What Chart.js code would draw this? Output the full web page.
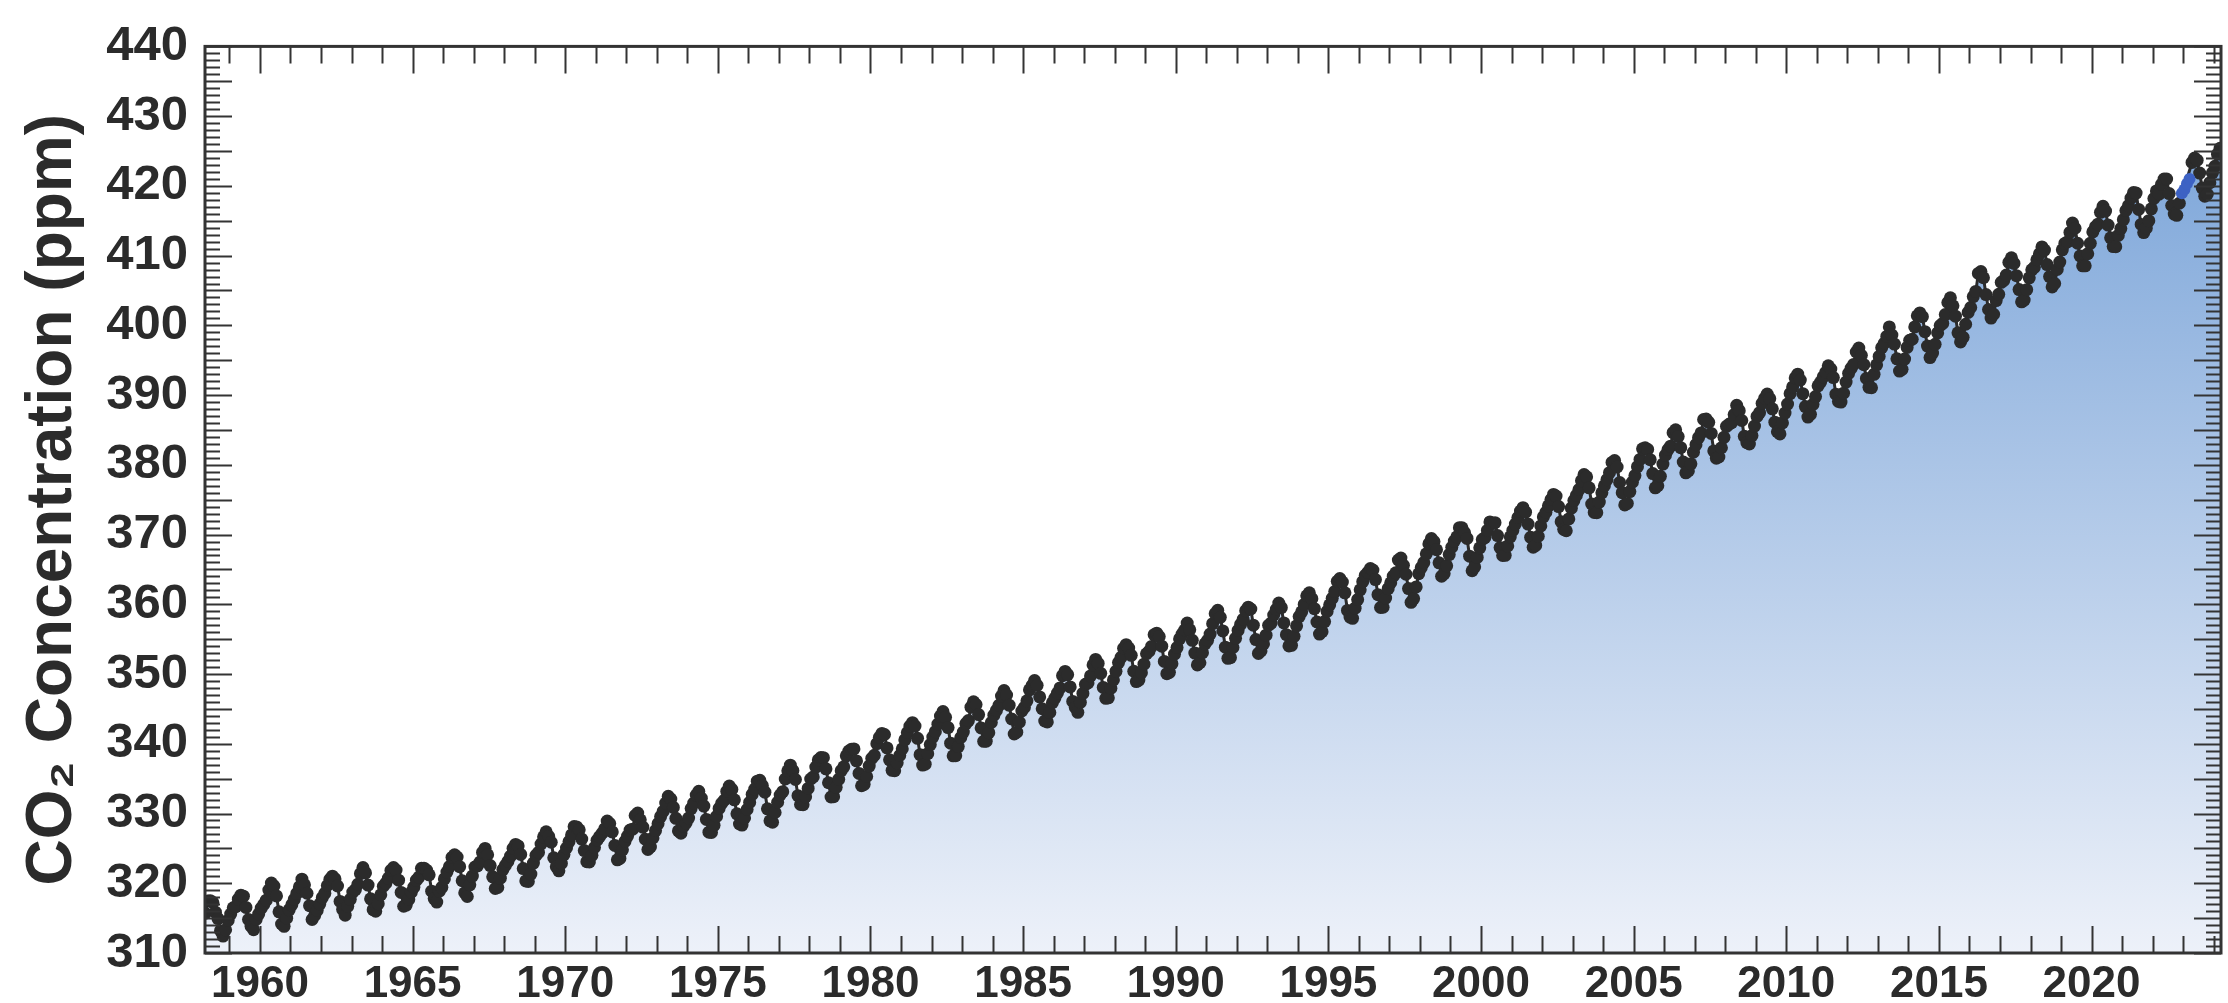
<!DOCTYPE html>
<html>
<head>
<meta charset="utf-8">
<script src="https://cdn.jsdelivr.net/npm/chart.js@4/dist/chart.umd.min.js"></script>
<style>
  html, body { margin: 0; padding: 0; background: #fff; }
  #wrap { width: 2228px; height: 1003px; position: relative; }
</style>
</head>
<body>
<div id="wrap"><canvas id="co2Chart"></canvas></div>
<script>
// monthly means, one row per year (Jan..Dec), Mauna Loa
const startYear = 1958;
const maunaLoa = [
  [null, null, 315.70, 317.45, 317.51, 317.24, 315.86, 314.93, 313.20, 312.43, 313.33, 314.67],
  [315.58, 316.49, 316.65, 317.72, 318.29, 318.15, 316.54, 314.80, 313.84, 313.33, 314.81, 315.58],
  [316.43, 316.97, 317.58, 319.02, 320.03, 319.59, 318.18, 315.91, 314.16, 313.83, 315.00, 316.19],
  [316.89, 317.70, 318.54, 319.48, 320.58, 319.77, 318.57, 316.79, 314.80, 315.38, 316.10, 317.01],
  [317.94, 318.55, 319.68, 320.57, 321.02, 320.62, 319.61, 317.40, 316.25, 315.42, 316.69, 317.70],
  [318.74, 319.07, 319.86, 321.38, 322.25, 321.48, 319.74, 317.77, 316.21, 315.99, 317.07, 318.35],
  [319.57, 320.01, 320.74, 321.84, 322.26, 321.89, 320.44, 318.69, 316.70, 316.87, 317.68, 318.71],
  [319.44, 320.44, 320.89, 322.14, 322.17, 321.87, 321.21, 318.87, 317.81, 317.30, 318.87, 319.42],
  [320.62, 321.60, 322.39, 323.70, 324.08, 323.75, 322.38, 320.36, 318.64, 318.10, 319.78, 321.03],
  [322.33, 322.50, 323.04, 324.42, 325.00, 324.09, 322.54, 320.92, 319.25, 319.39, 320.73, 321.96],
  [322.57, 323.15, 323.89, 325.02, 325.57, 325.36, 324.14, 322.11, 320.33, 320.25, 321.32, 322.89],
  [324.00, 324.42, 325.63, 326.66, 327.38, 326.71, 325.88, 323.66, 322.38, 321.78, 322.85, 324.12],
  [325.06, 325.98, 326.93, 328.13, 328.08, 327.67, 326.34, 324.69, 323.10, 323.06, 324.01, 325.13],
  [326.17, 326.68, 327.17, 327.79, 328.93, 328.57, 327.36, 325.43, 323.36, 323.56, 324.80, 326.01],
  [326.77, 327.63, 327.75, 329.72, 330.07, 329.09, 328.04, 326.32, 324.84, 325.20, 326.50, 327.55],
  [328.55, 329.56, 330.30, 331.50, 332.48, 332.07, 330.87, 329.31, 327.51, 327.18, 328.16, 328.64],
  [329.35, 330.71, 331.48, 332.65, 333.19, 332.20, 331.07, 329.15, 327.33, 327.28, 328.31, 329.58],
  [330.73, 331.46, 331.90, 333.17, 333.94, 333.45, 331.97, 329.95, 328.50, 328.34, 329.37, 330.58],
  [331.59, 332.75, 333.52, 334.64, 334.77, 334.00, 333.06, 330.68, 328.95, 328.75, 330.15, 331.62],
  [332.66, 333.13, 334.95, 336.13, 336.93, 336.17, 334.88, 332.56, 331.29, 331.27, 332.41, 333.60],
  [334.95, 335.25, 336.66, 337.69, 338.03, 338.01, 336.41, 334.41, 332.37, 332.41, 333.75, 334.90],
  [336.14, 336.69, 338.27, 338.96, 339.21, 339.26, 337.54, 335.75, 333.98, 334.19, 335.31, 336.81],
  [337.90, 338.34, 340.01, 340.93, 341.48, 341.33, 339.40, 337.70, 336.19, 336.15, 337.27, 338.32],
  [339.29, 340.55, 341.61, 342.53, 343.03, 342.54, 340.78, 338.44, 336.95, 337.08, 338.58, 339.88],
  [340.96, 341.73, 342.81, 343.97, 344.63, 343.79, 342.32, 340.09, 338.28, 338.29, 339.60, 340.90],
  [341.68, 342.90, 343.33, 345.25, 346.03, 345.63, 344.19, 342.27, 340.35, 340.38, 341.59, 343.05],
  [344.10, 344.79, 345.52, 346.84, 347.63, 346.98, 345.53, 343.55, 341.40, 341.67, 343.10, 344.70],
  [345.21, 346.16, 347.74, 348.34, 349.06, 348.38, 346.72, 345.02, 343.27, 343.13, 344.49, 345.88],
  [346.56, 347.28, 348.01, 349.77, 350.38, 349.93, 348.16, 346.08, 345.22, 344.51, 345.93, 347.22],
  [348.52, 348.73, 349.73, 351.31, 352.09, 351.53, 350.11, 348.08, 346.52, 346.59, 347.96, 349.16],
  [350.39, 351.64, 352.40, 353.69, 354.21, 353.72, 352.69, 350.40, 348.92, 349.13, 350.20, 351.41],
  [352.91, 353.27, 353.96, 355.64, 355.86, 355.37, 353.99, 351.81, 350.05, 350.25, 351.49, 352.85],
  [353.80, 355.04, 355.73, 356.32, 357.32, 356.34, 354.84, 353.01, 351.31, 351.62, 353.07, 354.33],
  [354.84, 355.73, 357.23, 358.66, 359.13, 358.13, 356.19, 353.85, 352.25, 352.35, 353.81, 355.12],
  [356.25, 357.11, 357.86, 359.09, 359.59, 359.33, 357.01, 354.94, 352.96, 353.32, 354.32, 355.57],
  [357.00, 357.31, 358.47, 359.27, 360.19, 359.52, 357.33, 355.64, 354.03, 354.12, 355.41, 356.91],
  [358.24, 358.92, 359.99, 361.23, 361.65, 360.81, 359.38, 357.46, 355.73, 356.08, 357.53, 358.98],
  [359.92, 360.86, 361.83, 363.30, 363.69, 363.19, 361.64, 359.12, 358.17, 357.99, 359.45, 360.68],
  [362.07, 363.24, 364.17, 364.57, 365.13, 364.92, 363.55, 361.38, 359.54, 359.58, 360.89, 362.24],
  [363.09, 364.03, 364.51, 366.35, 366.64, 365.59, 364.31, 362.25, 360.29, 360.82, 362.49, 364.38],
  [365.26, 365.98, 367.24, 368.66, 369.42, 368.99, 367.82, 365.95, 364.02, 364.40, 365.52, 367.13],
  [368.18, 369.07, 369.68, 370.99, 370.96, 370.30, 369.45, 366.90, 364.81, 365.37, 366.72, 368.10],
  [369.29, 369.54, 370.60, 371.82, 371.58, 371.70, 369.86, 368.13, 367.00, 367.03, 368.37, 369.67],
  [370.59, 371.51, 372.43, 373.37, 373.85, 373.21, 371.51, 369.61, 368.18, 368.45, 369.76, 371.24],
  [372.53, 373.20, 374.12, 375.02, 375.76, 375.52, 374.01, 371.85, 370.75, 370.55, 372.25, 373.79],
  [374.88, 375.64, 376.45, 377.73, 378.60, 378.28, 376.70, 374.38, 373.17, 373.14, 374.66, 375.99],
  [377.00, 377.87, 378.88, 380.35, 380.62, 379.69, 377.47, 376.01, 374.25, 374.46, 376.16, 377.51],
  [378.46, 379.73, 380.77, 382.29, 382.45, 382.21, 380.74, 378.74, 376.70, 377.00, 378.35, 380.11],
  [381.38, 382.19, 382.67, 384.61, 385.03, 384.05, 382.46, 380.41, 378.85, 379.13, 380.15, 381.82],
  [382.89, 383.90, 384.58, 386.50, 386.56, 386.10, 384.50, 381.99, 380.96, 381.12, 382.45, 383.95],
  [385.52, 385.82, 386.03, 387.21, 388.54, 387.76, 386.36, 384.09, 383.18, 382.99, 384.19, 385.56],
  [386.94, 387.48, 388.82, 389.55, 390.14, 389.48, 388.03, 386.11, 384.74, 384.43, 386.02, 387.42],
  [388.71, 390.20, 391.17, 392.46, 393.00, 392.15, 390.20, 388.35, 386.85, 387.24, 388.67, 389.79],
  [391.33, 391.86, 392.60, 393.25, 394.19, 393.74, 392.51, 390.13, 389.08, 389.00, 390.28, 391.86],
  [393.12, 393.86, 394.40, 396.18, 396.74, 395.71, 394.36, 392.39, 391.11, 391.05, 392.98, 394.34],
  [395.55, 396.80, 397.43, 398.41, 399.78, 398.61, 397.32, 395.20, 393.45, 393.70, 395.16, 396.84],
  [397.85, 398.01, 399.77, 401.38, 401.78, 401.25, 399.10, 397.03, 395.38, 396.03, 397.28, 398.91],
  [399.98, 400.28, 401.54, 403.28, 403.96, 402.80, 401.31, 398.93, 397.63, 398.29, 400.16, 401.85],
  [402.56, 404.12, 404.87, 407.45, 407.72, 406.83, 404.41, 402.27, 401.05, 401.59, 403.55, 404.45],
  [406.17, 406.46, 407.22, 409.04, 409.69, 408.88, 407.12, 405.13, 403.37, 403.63, 405.12, 406.81],
  [407.96, 408.32, 409.41, 410.24, 411.24, 410.79, 408.71, 406.99, 405.51, 406.00, 408.02, 409.07],
  [410.83, 411.75, 411.97, 413.32, 414.66, 413.92, 411.77, 409.95, 408.54, 408.53, 410.27, 411.76],
  [413.40, 414.11, 414.51, 416.21, 417.07, 416.39, 414.38, 412.55, 411.29, 411.28, 412.89, 413.88],
  [415.15, 416.47, 417.16, 418.24, 419.05, 418.97, 416.63, 414.47, 413.30, 413.93, 415.01, 416.71],
  [418.19, 419.28, 418.81, 420.23, 420.99, 420.99, 418.90, 417.19, 415.95, 415.78, 417.51, null],
  [null, null, null, 423.36, 424.00, 423.68, 421.83, 419.68, 418.51, 418.82, 420.46, 421.86],
  [422.80, 424.55, 425.38]
];

// Maunakea substitute record after the Mauna Loa eruption (blue)
const maunakeaYears = [2022, 2023, 2023, 2023];
const maunakeaMonths = [12, 1, 2, 3];
const maunakeaValues = [418.95, 419.47, 420.31, 420.99];

const xTickLabels = [1960, 1965, 1970, 1975, 1980, 1985, 1990, 1995, 2000, 2005, 2010, 2015, 2020];
const yTickLabels = [310, 320, 330, 340, 350, 360, 370, 380, 390, 400, 410, 420, 430, 440];

const xMin = 1958.2, xMax = 2024.24;
const ink = '#2b2b2b';
const fontFamily = '"Liberation Sans", Arial, Helvetica, sans-serif';

function monthX(year, month) {
	return year + (month - 0.5) / 12;
}

var mloPoints = [];
maunaLoa.forEach(function(row, i){
	row.forEach(function(v, m){
		mloPoints.push({x: monthX(startYear + i, m + 1), y: v});
	});
});

var mkoPoints = maunakeaValues.map(function(v, i){
	return {x: monthX(maunakeaYears[i], maunakeaMonths[i]), y: v};
});

function fillGradient(context){
	var chart = context.chart;
	var area = chart.chartArea;
	if (!area) return 'rgba(140,176,222,0.6)';
	var g = chart.ctx.createLinearGradient(0, area.top, 0, area.bottom);
	g.addColorStop(0, '#719ed6');
	g.addColorStop(1, '#edf1f9');
	return g;
}

// ticks drawn on the inside of all four sides, like the original frame
var frameTicks = {
	id: 'frameTicks',
	afterDatasetsDraw: function(chart){
		var ctx = chart.ctx, a = chart.chartArea;
		var x = chart.scales.x, y = chart.scales.y;
		ctx.save();
		ctx.strokeStyle = '#333';
		ctx.lineWidth = 2;
		ctx.beginPath();
		for (var yr = Math.ceil(x.min); yr <= x.max; yr++) {
			var px = Math.round(x.getPixelForValue(yr)) + 0.5;
			var len = yr % 5 === 0 ? 27 : 17;
			ctx.moveTo(px, a.bottom); ctx.lineTo(px, a.bottom - len);
			ctx.moveTo(px, a.top); ctx.lineTo(px, a.top + len);
		}
		for (var v = y.min; v <= y.max; v++) {
			var py = Math.round(y.getPixelForValue(v)) + 0.5;
			var l = v % 5 === 0 ? 27 : 15;
			ctx.moveTo(a.left, py); ctx.lineTo(a.left + l, py);
			ctx.moveTo(a.right, py); ctx.lineTo(a.right - l, py);
		}
		ctx.stroke();
		ctx.lineWidth = 3;
		ctx.strokeRect(a.left, a.top, a.right - a.left, a.bottom - a.top);
		ctx.restore();
	}
};

var co2Chart = new Chart(document.getElementById('co2Chart').getContext('2d'), {
	type: 'line',
	data: {
		datasets: [
			{
				label: 'Maunakea',
				data: mkoPoints,
				order: 0,
				borderColor: '#3d62c4',
				borderWidth: 4,
				pointRadius: 6,
				pointBorderWidth: 0,
				pointBackgroundColor: '#3d62c4',
				fill: false,
				clip: 0
			},
			{
				label: 'Mauna Loa',
				data: mloPoints,
				order: 1,
				borderColor: ink,
				borderWidth: 3,
				pointRadius: 6.5,
				pointBorderWidth: 0,
				pointBackgroundColor: ink,
				spanGaps: true,
				fill: 'start',
				backgroundColor: fillGradient,
				clip: 0
			}
		]
	},
	options: {
		responsive: true,
		maintainAspectRatio: false,
		animation: false,
		layout: { padding: { top: 32, right: 7, bottom: 0, left: 0 } },
		plugins: {
			legend: { display: false },
			tooltip: { enabled: false }
		},
		scales: {
			x: {
				type: 'linear',
				min: xMin,
				max: xMax,
				grid: { display: false, drawTicks: false },
				border: { display: false },
				afterBuildTicks: function(scale){
					scale.ticks = xTickLabels.map(function(v){ return {value: v}; });
				},
				afterFit: function(scale){ scale.height = 50; },
				ticks: {
					autoSkip: false,
					maxRotation: 0,
					padding: 5,
					color: ink,
					font: { family: fontFamily, size: 44, weight: 'bold' },
					callback: function(v){ return String(v); }
				}
			},
			y: {
				min: 310,
				max: 440,
				grid: { display: false, drawTicks: false },
				border: { display: false },
				afterBuildTicks: function(scale){
					scale.ticks = yTickLabels.map(function(v){ return {value: v}; });
				},
				afterFit: function(scale){ scale.width = 205; },
				ticks: {
					autoSkip: false,
					padding: 17,
					color: ink,
					font: { family: fontFamily, size: 49, weight: 'bold' },
					callback: function(v){ return String(v); }
				},
				title: {
					display: true,
					text: 'CO₂ Concentration (ppm)',
					color: ink,
					padding: { top: 15, bottom: 0 },
					font: { family: fontFamily, size: 64, weight: 'bold' }
				}
			}
		}
	},
	plugins: [frameTicks]
});
</script>
</body>
</html>
